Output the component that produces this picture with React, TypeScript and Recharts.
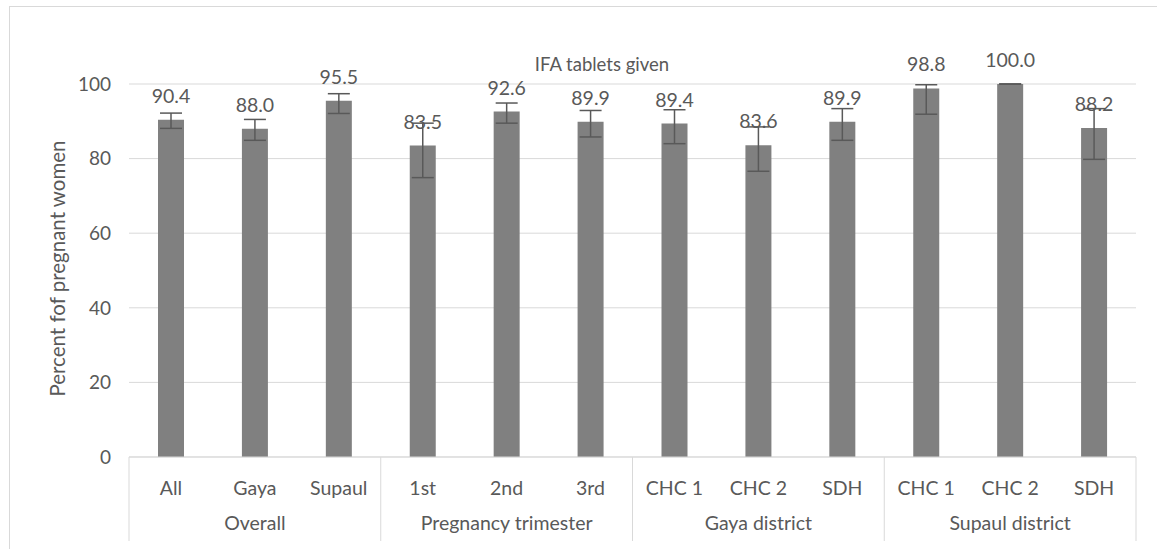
import { BarChart, Bar, XAxis, YAxis, CartesianGrid, ErrorBar, LabelList } from 'recharts'

const categories = ['All', 'Gaya', 'Supaul', '1st', '2nd', '3rd', 'CHC 1', 'CHC 2', 'SDH', 'CHC 1', 'CHC 2', 'SDH']
const groups = ['Overall', 'Pregnancy trimester', 'Gaya district', 'Supaul district']
const values = [90.4, 88.0, 95.5, 83.5, 92.6, 89.9, 89.4, 83.6, 89.9, 98.8, 100.0, 88.2]
// confidence interval bounds
const lower = [88.1, 84.9, 92.1, 74.9, 89.5, 85.8, 84.0, 76.6, 84.9, 91.9, 100.0, 79.8]
const upper = [92.2, 90.5, 97.4, 89.5, 94.9, 92.9, 93.1, 88.5, 93.4, 99.8, 100.0, 93.4]
const yTicks = [0, 20, 40, 60, 80, 100]

const FONT = 'Lato, "Open Sans", sans-serif'
const TEXT = '#595959'
const LINE = '#d9d9d9'

const data = categories.map((name, i) => ({
  key: `${i}`,
  name,
  value: values[i],
  err: [+(values[i] - lower[i]).toFixed(1), +(upper[i] - values[i]).toFixed(1)],
}))

// two-level category axis like Excel's multi-level labels
function MultiLevelTick(props: any) {
  const { x, y, payload } = props
  const idx = payload.index
  const half = payload.offset || 42
  const inGroup = idx % 3
  return (
    <g>
      <text x={x} y={y + 38} textAnchor="middle" fill={TEXT} fontSize={19.5} fontFamily={FONT}>
        {categories[idx]}
      </text>
      {inGroup === 1 && (
        <text x={x} y={y + 73} textAnchor="middle" fill={TEXT} fontSize={19.5} fontFamily={FONT}>
          {groups[Math.floor(idx / 3)]}
        </text>
      )}
      {inGroup === 0 && <line x1={x - half} x2={x - half} y1={y} y2={y + 84} stroke={LINE} />}
      {idx === categories.length - 1 && <line x1={x + half} x2={x + half} y1={y} y2={y + 84} stroke={LINE} />}
    </g>
  )
}

function YTitle(props: any) {
  const { viewBox } = props
  const cy = viewBox.y + viewBox.height / 2 - 2
  return (
    <text
      x={57}
      y={cy}
      transform={`rotate(-90 57 ${cy})`}
      textAnchor="middle"
      dominantBaseline="central"
      fill={TEXT}
      fontSize={20.5}
      fontFamily={FONT}
    >
      Percent fof pregnant women
    </text>
  )
}

export default function App() {
  return (
    <div style={{ position: 'absolute', left: 0, top: 0, width: 1157, height: 549, overflow: 'hidden', background: '#fff' }}>
      <div style={{ position: 'absolute', left: 9, top: 6, width: 1200, height: 600, border: `1px solid ${LINE}` }} />
      <div style={{ position: 'absolute', left: 0, top: 0 }}>
        <BarChart width={1157} height={549} data={data} margin={{ top: 84, right: 21, left: 0, bottom: 0 }}>
          <text x={602} y={71} textAnchor="middle" fill={TEXT} fontSize={18.5} fontFamily={FONT}>
            IFA tablets given
          </text>
          <CartesianGrid vertical={false} stroke={LINE} />
          <XAxis
            dataKey="key"
            height={92}
            interval={0}
            tickLine={false}
            tickSize={0}
            tickMargin={0}
            axisLine={{ stroke: LINE }}
            tick={<MultiLevelTick />}
          />
          <YAxis
            width={129}
            domain={[0, 100]}
            ticks={yTicks}
            axisLine={false}
            tickLine={false}
            tickMargin={12}
            tick={{ fill: TEXT, fontSize: 19, fontFamily: FONT }}
            label={<YTitle />}
          />
          <Bar dataKey="value" fill="#808080" barSize={26} isAnimationActive={false}>
            <ErrorBar dataKey="err" width={11} stroke="#595959" strokeWidth={1.5} direction="y" />
            <LabelList
              dataKey="value"
              position="top"
              offset={17}
              formatter={(v: any) => Number(v).toFixed(1)}
              style={{ fill: TEXT, fontSize: 19.5, fontFamily: FONT }}
            />
          </Bar>
        </BarChart>
      </div>
    </div>
  )
}
